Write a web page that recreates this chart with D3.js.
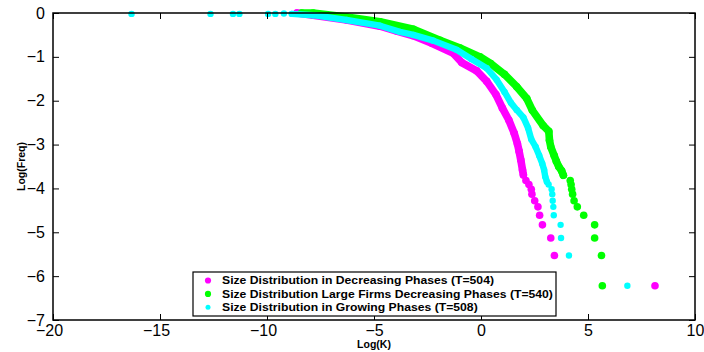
<!DOCTYPE html>
<html>
<head>
<meta charset="utf-8">
<script src="https://cdn.jsdelivr.net/npm/d3@7"></script>
<style>
  body { margin: 0; background: #fff; }
  svg { display: block; font-family: "Liberation Sans", Arial, sans-serif; }
</style>
</head>
<body>
<div id="root"></div>
<script>
const width = 704;
const height = 352;

const xTicks = [-20, -15, -10, -5, 0, 5, 10];
const yTicks = [0, -1, -2, -3, -4, -5, -6, -7];

const seriesNames = [
  "Size Distribution in Decreasing Phases (T=504)",
  "Size Distribution Large Firms Decreasing Phases (T=540)",
  "Size Distribution in Growing Phases (T=508)"
];
const seriesColors = ["#ff00ff", "#00ff00", "#00ffff"];

// dense part of each curve (dots merge into a thick band)
const magentaBand = [
  [-8.6, 0], [-7.84, -0.05], [-6.28, -0.16], [-4.72, -0.3], [-3.94, -0.41],
  [-3.16, -0.52], [-2.3, -0.69], [-1.29, -0.92], [-0.9, -1.13], [-0.2, -1.32],
  [0.27, -1.56], [0.7, -1.86], [1.0, -2.17], [1.3, -2.44], [1.55, -2.74],
  [1.7, -2.98], [1.78, -3.15], [1.86, -3.35], [1.94, -3.58], [1.98, -3.69]
];
const greenBand = [
  [-8.38, 0], [-7.84, 0], [-6.28, -0.09], [-4.72, -0.2], [-3.16, -0.37],
  [-1.92, -0.62], [-0.98, -0.8], [-0.05, -1.0], [0.45, -1.15], [1.1, -1.4],
  [1.67, -1.68], [2.14, -1.95], [2.4, -2.22], [2.91, -2.57], [3.17, -2.7],
  [3.2, -2.9], [3.26, -3.05], [3.42, -3.25], [3.52, -3.38], [3.63, -3.5],
  [3.77, -3.6], [3.85, -3.7]
];
const cyanBand = [
  [-8.84, -0.02], [-7.84, -0.05], [-6.28, -0.16], [-4.72, -0.29], [-3.79, -0.43],
  [-3.16, -0.5], [-2.23, -0.63], [-1.14, -0.84], [-0.45, -1.05], [0.27, -1.26],
  [0.73, -1.52], [1.1, -1.8], [1.4, -2.05], [1.67, -2.21], [1.98, -2.38],
  [2.2, -2.62], [2.35, -2.88], [2.55, -3.05], [2.72, -3.25], [2.86, -3.43],
  [2.95, -3.58], [3.0, -3.73], [3.08, -3.85]
];

// isolated points
const magentaDots = [
  [2.1, -3.82], [2.24, -3.91], [2.35, -4.02], [2.38, -4.13], [2.51, -4.28],
  [2.66, -4.42], [2.74, -4.61], [2.87, -4.83], [3.26, -5.13], [3.43, -5.53],
  [8.13, -6.22]
];
const greenDots = [
  [4.17, -3.82], [4.21, -3.91], [4.24, -4.02], [4.28, -4.13], [4.35, -4.28],
  [4.5, -4.42], [4.8, -4.61], [5.31, -4.83], [5.31, -5.13], [5.63, -5.53],
  [5.67, -6.22]
];
const cyanDots = [
  [-16.33, -0.02], [-12.64, -0.02], [-11.59, -0.02], [-11.29, -0.02],
  [-9.95, -0.02], [-9.61, -0.02], [-9.21, -0.01],
  [3.16, -3.91], [3.3, -4.02], [3.33, -4.13], [3.35, -4.28], [3.38, -4.42],
  [3.4, -4.61], [3.72, -4.83], [3.74, -5.13], [4.11, -5.53], [6.84, -6.22]
];

const series = [
  { band: magentaBand, dots: magentaDots, r: 3.8 },
  { band: greenBand, dots: greenDots, r: 3.8 },
  { band: cyanBand, dots: cyanDots, r: 3.2 }
].map((s, i) => ({ ...s, name: seriesNames[i], color: seriesColors[i] }));

const x = d3.scaleLinear().domain([-20, 10]).range([53, 695]);
const y = d3.scaleLinear().domain([-7, 0]).range([320, 13]);

const svg = d3
  .select("#root")
  .append("svg")
  .attr("width", width)
  .attr("height", height);

const line = d3
  .line()
  .x((d) => x(d[0]))
  .y((d) => y(d[1]));

const marks = svg.append("g");

series.forEach((s) => {
  const g = marks.append("g");
  g.append("path")
    .datum(s.band)
    .attr("d", line)
    .attr("fill", "none")
    .attr("stroke", s.color)
    .attr("stroke-width", s.r * 2)
    .attr("stroke-linecap", "round")
    .attr("stroke-linejoin", "round");
  g.selectAll("circle")
    .data(s.band.concat(s.dots))
    .join("circle")
    .attr("cx", (d) => x(d[0]))
    .attr("cy", (d) => y(d[1]))
    .attr("r", s.r)
    .attr("fill", s.color);
});

// axes, MATLAB style: ticks inward on all four sides
const fmt = d3.format("d");

const xAxis = svg
  .append("g")
  .attr("transform", `translate(0,${y(-7)})`)
  .call(d3.axisBottom(x).tickValues(xTicks).tickFormat(fmt).tickSize(-6).tickPadding(5));

svg
  .append("g")
  .attr("transform", `translate(0,${y(0)})`)
  .call(d3.axisTop(x).tickValues(xTicks).tickFormat("").tickSize(-6));

const yAxis = svg
  .append("g")
  .attr("transform", `translate(${x(-20)},0)`)
  .call(d3.axisLeft(y).tickValues(yTicks).tickFormat(fmt).tickSize(-6).tickPadding(8));

svg
  .append("g")
  .attr("transform", `translate(${x(10)},0)`)
  .call(d3.axisRight(y).tickValues(yTicks).tickFormat("").tickSize(-6));

svg.selectAll(".domain").remove();
svg.selectAll(".tick line").attr("stroke", "#000").attr("stroke-width", 1);
svg
  .selectAll(".tick text")
  .attr("font-family", "Liberation Sans, Arial, sans-serif")
  .attr("font-size", 16)
  .attr("fill", "#000");

// negative x labels sit a little left of their tick in the original
xAxis
  .selectAll(".tick text")
  .attr("dx", (d) => (d < -5 ? -4 : 0));

svg
  .append("rect")
  .attr("x", x(-20))
  .attr("y", y(0))
  .attr("width", x(10) - x(-20))
  .attr("height", y(-7) - y(0))
  .attr("fill", "none")
  .attr("stroke", "#000")
  .attr("stroke-width", 1.5);

// axis titles
svg
  .append("text")
  .attr("x", (x(-20) + x(10)) / 2)
  .attr("y", 348)
  .attr("text-anchor", "middle")
  .attr("font-size", 10.5)
  .attr("font-weight", "bold")
  .text("Log(K)");

svg
  .append("text")
  .attr("transform", `translate(24.5,${(y(0) + y(-7)) / 2}) rotate(-90)`)
  .attr("text-anchor", "middle")
  .attr("font-size", 10.5)
  .attr("font-weight", "bold")
  .text("Log(Freq)");

// legend
const legend = svg.append("g").attr("transform", "translate(193,272)");

legend
  .append("rect")
  .attr("width", 363)
  .attr("height", 44)
  .attr("fill", "#fff")
  .attr("stroke", "#000")
  .attr("stroke-width", 1.2);

const item = legend
  .selectAll(".item")
  .data(series)
  .join("g")
  .attr("class", "item")
  .attr("transform", (d, i) => `translate(0,${8.5 + i * 13.4})`);

item
  .append("circle")
  .attr("cx", 15)
  .attr("r", (d) => d.r - 0.7)
  .attr("fill", (d) => d.color);

const labels = item
  .append("text")
  .attr("x", 29)
  .attr("dy", "0.35em")
  .attr("font-size", 11)
  .attr("font-weight", "bold")
  .text((d) => d.name);

// the original text is set wide: stretch so the longest entry fills the box
const longest = d3.max(labels.nodes(), (n) => n.getComputedTextLength());
const sx = 331 / longest;
labels.attr("transform", `translate(29,0) scale(${sx},1) translate(-29,0)`);
</script>
</body>
</html>
